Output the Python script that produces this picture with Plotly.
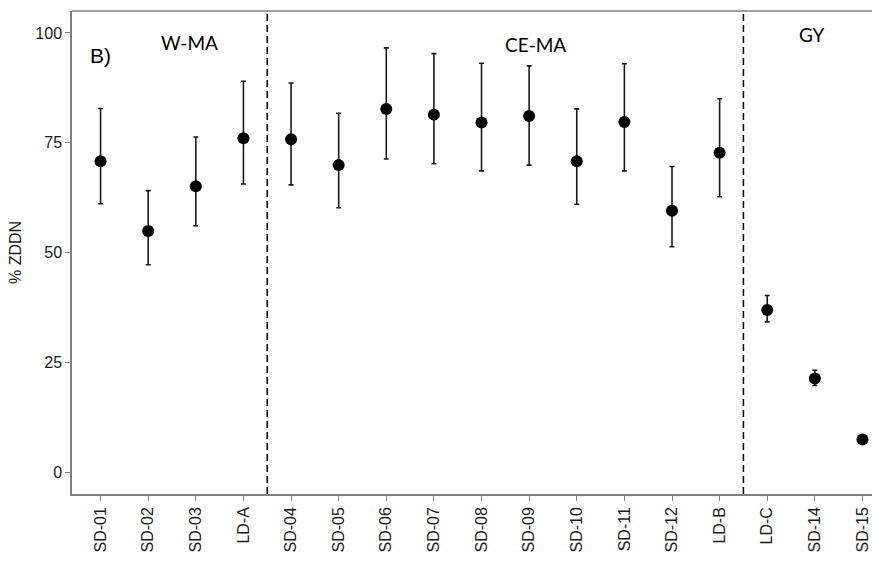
import plotly.graph_objects as go

samples = ["SD-01", "SD-02", "SD-03", "LD-A", "SD-04", "SD-05", "SD-06", "SD-07", "SD-08",
           "SD-09", "SD-10", "SD-11", "SD-12", "LD-B", "LD-C", "SD-14", "SD-15"]
zddn = [70.8, 54.9, 65.1, 76.0, 75.8, 69.9, 82.7, 81.4, 79.6, 81.1, 70.8, 79.7, 59.5, 72.7, 36.9, 21.3, 7.4]
upper = [82.8, 64.1, 76.3, 89.0, 88.6, 81.7, 96.6, 95.3, 93.1, 92.5, 82.7, 93.0, 69.6, 85.0, 40.2, 23.2, 7.4]
lower = [61.1, 47.2, 56.1, 65.6, 65.4, 60.2, 71.3, 70.2, 68.6, 69.9, 61.0, 68.6, 51.3, 62.7, 34.2, 19.7, 7.4]
group_labels = ["W-MA", "CE-MA", "GY"]
y_ticks = [0, 25, 50, 75, 100]

err_plus = [u - v for u, v in zip(upper, zddn)]
err_minus = [v - l for v, l in zip(zddn, lower)]
xidx = list(range(len(samples)))

FAM = "Arial, 'Liberation Sans', sans-serif"
TXT = "#1a1a1a"

fig = go.Figure()
fig.add_trace(go.Scatter(
    x=xidx, y=zddn, mode="markers",
    marker=dict(color="black", size=12),
    error_y=dict(type="data", symmetric=False, array=err_plus, arrayminus=err_minus,
                 color="#1a1a1a", thickness=1.6, width=2.5),
    showlegend=False,
))

axis_grey = "#808080"
for xv in [3.5, 13.5]:
    fig.add_shape(type="line", xref="x", yref="paper", x0=xv, x1=xv, y0=0, y1=1,
                  line=dict(color="black", width=1.5, dash="7px,4px"))
fig.add_shape(type="line", xref="paper", yref="paper", x0=0, x1=1, y0=1, y1=1,
              line=dict(color=axis_grey, width=1.5))

ann_font = dict(family="Lato", size=19, color="black")

def px_x(p):
    return (p - 72) / 800

def px_y(p):
    return (494 - p) / 483

fig.add_annotation(x=px_x(100), y=px_y(56), xref="paper", yref="paper", text="B)",
                   showarrow=False, font=dict(family=FAM, size=21, color="black"),
                   xanchor="center", yanchor="middle")
pos = [(189, 43), (535, 45), (812, 34)]
for lbl, (px, py) in zip(group_labels, pos):
    fig.add_annotation(x=px_x(px), y=px_y(py), xref="paper", yref="paper", text=lbl,
                       showarrow=False, font=ann_font, xanchor="center", yanchor="middle")

fig.update_layout(
    width=872, height=569,
    margin=dict(l=72, r=0, t=11, b=75),
    paper_bgcolor="white", plot_bgcolor="white",
    font=dict(family=FAM, color=TXT),
)
fig.update_xaxes(
    range=[-0.6, 16.2], tickmode="array", tickvals=xidx, ticktext=samples,
    tickangle=-90, tickfont=dict(family=FAM, size=16, color=TXT),
    showgrid=False, zeroline=False, showline=True, linecolor=axis_grey, linewidth=1.5,
    ticks="outside", ticklen=5, tickcolor=axis_grey, tickwidth=1.3,
)
fig.update_yaxes(
    range=[-5.0, 105.0], tickvals=y_ticks, tickfont=dict(family=FAM, size=16, color=TXT),
    showgrid=False, zeroline=False, showline=True, linecolor=axis_grey, linewidth=1.5,
    ticks="outside", ticklen=5, tickcolor=axis_grey, tickwidth=1.3,
    title=dict(text="% ZDDN", font=dict(family=FAM, size=16, color=TXT), standoff=10),
)

fig.write_html("out.html")
